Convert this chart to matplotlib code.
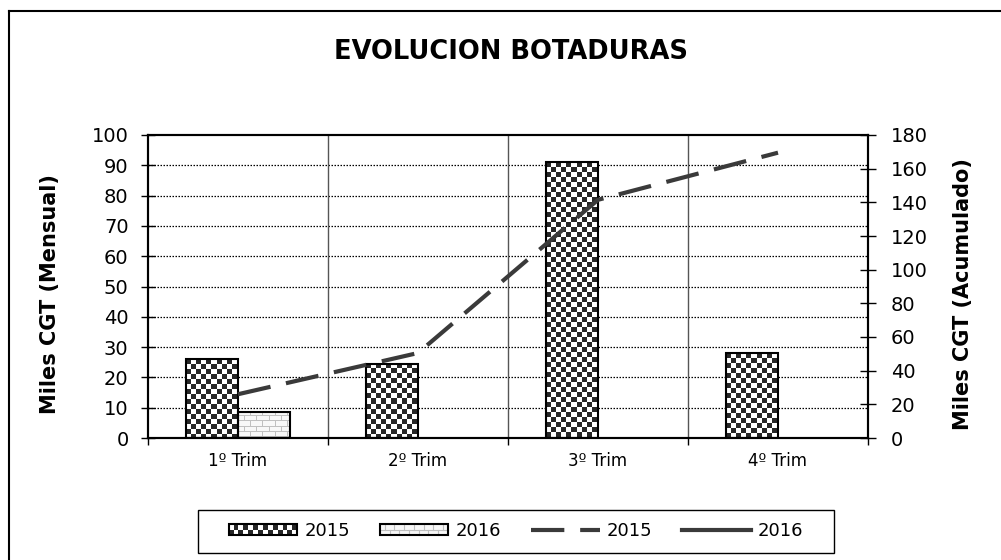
import numpy as np
import matplotlib
matplotlib.use("Agg")
import matplotlib.pyplot as plt
from matplotlib.patches import Rectangle
from matplotlib.lines import Line2D

# Datos
trimestres = ["1º Trim", "2º Trim", "3º Trim", "4º Trim"]
mensual_2015 = [26, 24.5, 91, 28]
mensual_2016 = [8.7]            # solo hay dato del 1º trimestre
acumulado_2015 = [26, 50.5, 141.5, 169.5]
acumulado_2016 = [8.7]

plt.rcParams["font.family"] = ["DejaVu Sans"]

W, H = 1001, 560
fig = plt.figure(figsize=(W / 100, H / 100), dpi=100)
ax = fig.add_axes([148 / W, 1 - 438 / H, 720 / W, 303 / H])
ax2 = ax.twinx()

x = np.arange(len(trimestres))
ancho = 0.29
ax.set_xlim(-0.5, 3.5)
ax.set_ylim(0, 100)
ax2.set_ylim(0, 180)

barras_2015 = ax.bar(x - ancho / 2, mensual_2015, ancho, facecolor="none",
                     edgecolor="black", linewidth=1.5, zorder=3)
barras_2016 = ax.bar(x[:len(mensual_2016)] + ancho / 2, mensual_2016, ancho,
                     facecolor="none", edgecolor="black", linewidth=1.5, zorder=3)


def textura(tipo, w, h):
    yy, xx = np.mgrid[0:h, 0:w]
    if tipo == "cuadros":
        return np.where(((xx // 5 + yy // 5) % 2) == 0, 0.15, 1.0)
    arr = np.full((h, w), 0.97)
    arr[yy % 5 == 4] = 0.75
    arr[((xx + 6 * ((yy // 5) % 2)) % 12 == 0)] = 0.75
    return arr


def rellenar(barras, tipo):
    for b in barras:
        x0, y0 = b.get_x(), b.get_y()
        x1, y1 = x0 + b.get_width(), y0 + b.get_height()
        (px0, py0), (px1, py1) = ax.transData.transform([(x0, y0), (x1, y1)])
        w, h = max(int(round(px1 - px0)), 1), max(int(round(py1 - py0)), 1)
        img = ax.imshow(textura(tipo, w, h), extent=(x0, x1, y0, y1), cmap="gray",
                        vmin=0, vmax=1, interpolation="nearest", aspect="auto", zorder=2)
        img.set_clip_path(b)


rellenar(barras_2015, "cuadros")
rellenar(barras_2016, "ladrillos")
ax.set_xlim(-0.5, 3.5)
ax.set_ylim(0, 100)

# lineas acumuladas
gris = "#3a3a3a"
ax2.plot(x, acumulado_2015, color=gris, linewidth=3, dashes=(8, 3.8))
ax2.plot(x[:len(acumulado_2016)], acumulado_2016, color=gris, linewidth=3)

# rejilla
ax.set_axisbelow(True)
ax.set_yticks(np.arange(0, 101, 10))
for v in np.arange(10, 100, 10):
    ax.axhline(v, color="black", linewidth=0.9, linestyle=(0, (1.2, 1.2)), zorder=1)
for v in [0.5, 1.5, 2.5]:
    ax.axvline(v, color="#555555", linewidth=1, zorder=1)

ax.set_xticks([-0.5, 0.5, 1.5, 2.5, 3.5])
ax.set_xticklabels([])
ax.set_xticks(x, minor=True)
ax.set_xticklabels(trimestres, minor=True, fontsize=12)
ax.tick_params(axis="x", which="major", direction="out", length=5, width=1)
ax.tick_params(axis="x", which="minor", length=0, pad=10)
ax.tick_params(axis="y", direction="inout", length=10, width=1, labelsize=14, pad=9)

ax2.set_yticks(np.arange(0, 181, 20))
ax2.tick_params(axis="y", direction="inout", length=11, width=1, labelsize=14, pad=11)

for a in (ax, ax2):
    for s in a.spines.values():
        s.set_linewidth(1.5)
        s.set_color("black")

ax.set_ylabel("Miles CGT (Mensual)", fontsize=15, fontweight="bold")
ax.yaxis.set_label_coords(-0.122, 0.475)
ax2.set_ylabel("Miles CGT (Acumulado)", fontsize=15, fontweight="bold")
ax2.yaxis.set_label_coords(1.118, 0.475)

fig.text(511 / W, 1 - 52 / H, "EVOLUCION BOTADURAS", fontsize=18.5,
         fontweight="bold", ha="center", va="center")


# leyenda con texturas
class ManejadorTextura:
    def __init__(self, tipo):
        self.tipo = tipo

    def legend_artist(self, legend, orig_handle, fontsize, handlebox):
        x0, y0 = -handlebox.xdescent, -handlebox.ydescent
        w, h = handlebox.width, handlebox.height
        if self.tipo == "cuadros":
            nc, nr = int(round(w / 3.6)), 2
            cw, ch = w / nc, h / nr
            for i in range(nc):
                for j in range(nr):
                    if (i + j) % 2 == 0:
                        handlebox.add_artist(Rectangle((x0 + i * cw, y0 + j * ch), cw, ch,
                                                       facecolor="#262626", edgecolor="none"))
        else:
            handlebox.add_artist(Rectangle((x0, y0), w, h, facecolor="#f7f7f7", edgecolor="none"))
            handlebox.add_artist(Line2D([x0, x0 + w], [y0 + h / 2] * 2, color="#bfbfbf", lw=0.8))
            for j in range(2):
                off = 0 if j == 0 else 3.5
                for xi in np.arange(x0 + off, x0 + w, 7):
                    handlebox.add_artist(Line2D([xi, xi], [y0 + j * h / 2, y0 + (j + 1) * h / 2],
                                                color="#bfbfbf", lw=0.8))
        marco = Rectangle((x0, y0), w, h, facecolor="none", edgecolor="black", linewidth=1.5)
        handlebox.add_artist(marco)
        return marco


p2015 = Rectangle((0, 0), 1, 1)
p2016 = Rectangle((0, 0), 1, 1)
l2015 = Line2D([], [], color=gris, linewidth=3, dashes=(8, 3.8))
l2016 = Line2D([], [], color=gris, linewidth=3)
fig.legend([p2015, p2016, l2015, l2016], ["2015", "2016", "2015", "2016"],
           handler_map={p2015: ManejadorTextura("cuadros"), p2016: ManejadorTextura("ladrillos")},
           loc="center", bbox_to_anchor=(516 / W, 1 - 531 / H), ncol=4, frameon=False,
           fontsize=13, handlelength=3.8, handleheight=0.61, handletextpad=0.39,
           columnspacing=1.66)
fig.add_artist(Rectangle((198 / W, 1 - 553 / H), (834 - 198) / W, 43 / H,
                         transform=fig.transFigure, fill=False, edgecolor="black", linewidth=1))

# borde del grafico (recortado arriba e izquierda)
fig.add_artist(Line2D([9 / W, 1], [1 - 11 / H] * 2, transform=fig.transFigure,
                      color="black", linewidth=1.5))
fig.add_artist(Line2D([9 / W] * 2, [0, 1 - 11 / H], transform=fig.transFigure,
                      color="black", linewidth=1.5))

fig.savefig("out.png", dpi=100)
